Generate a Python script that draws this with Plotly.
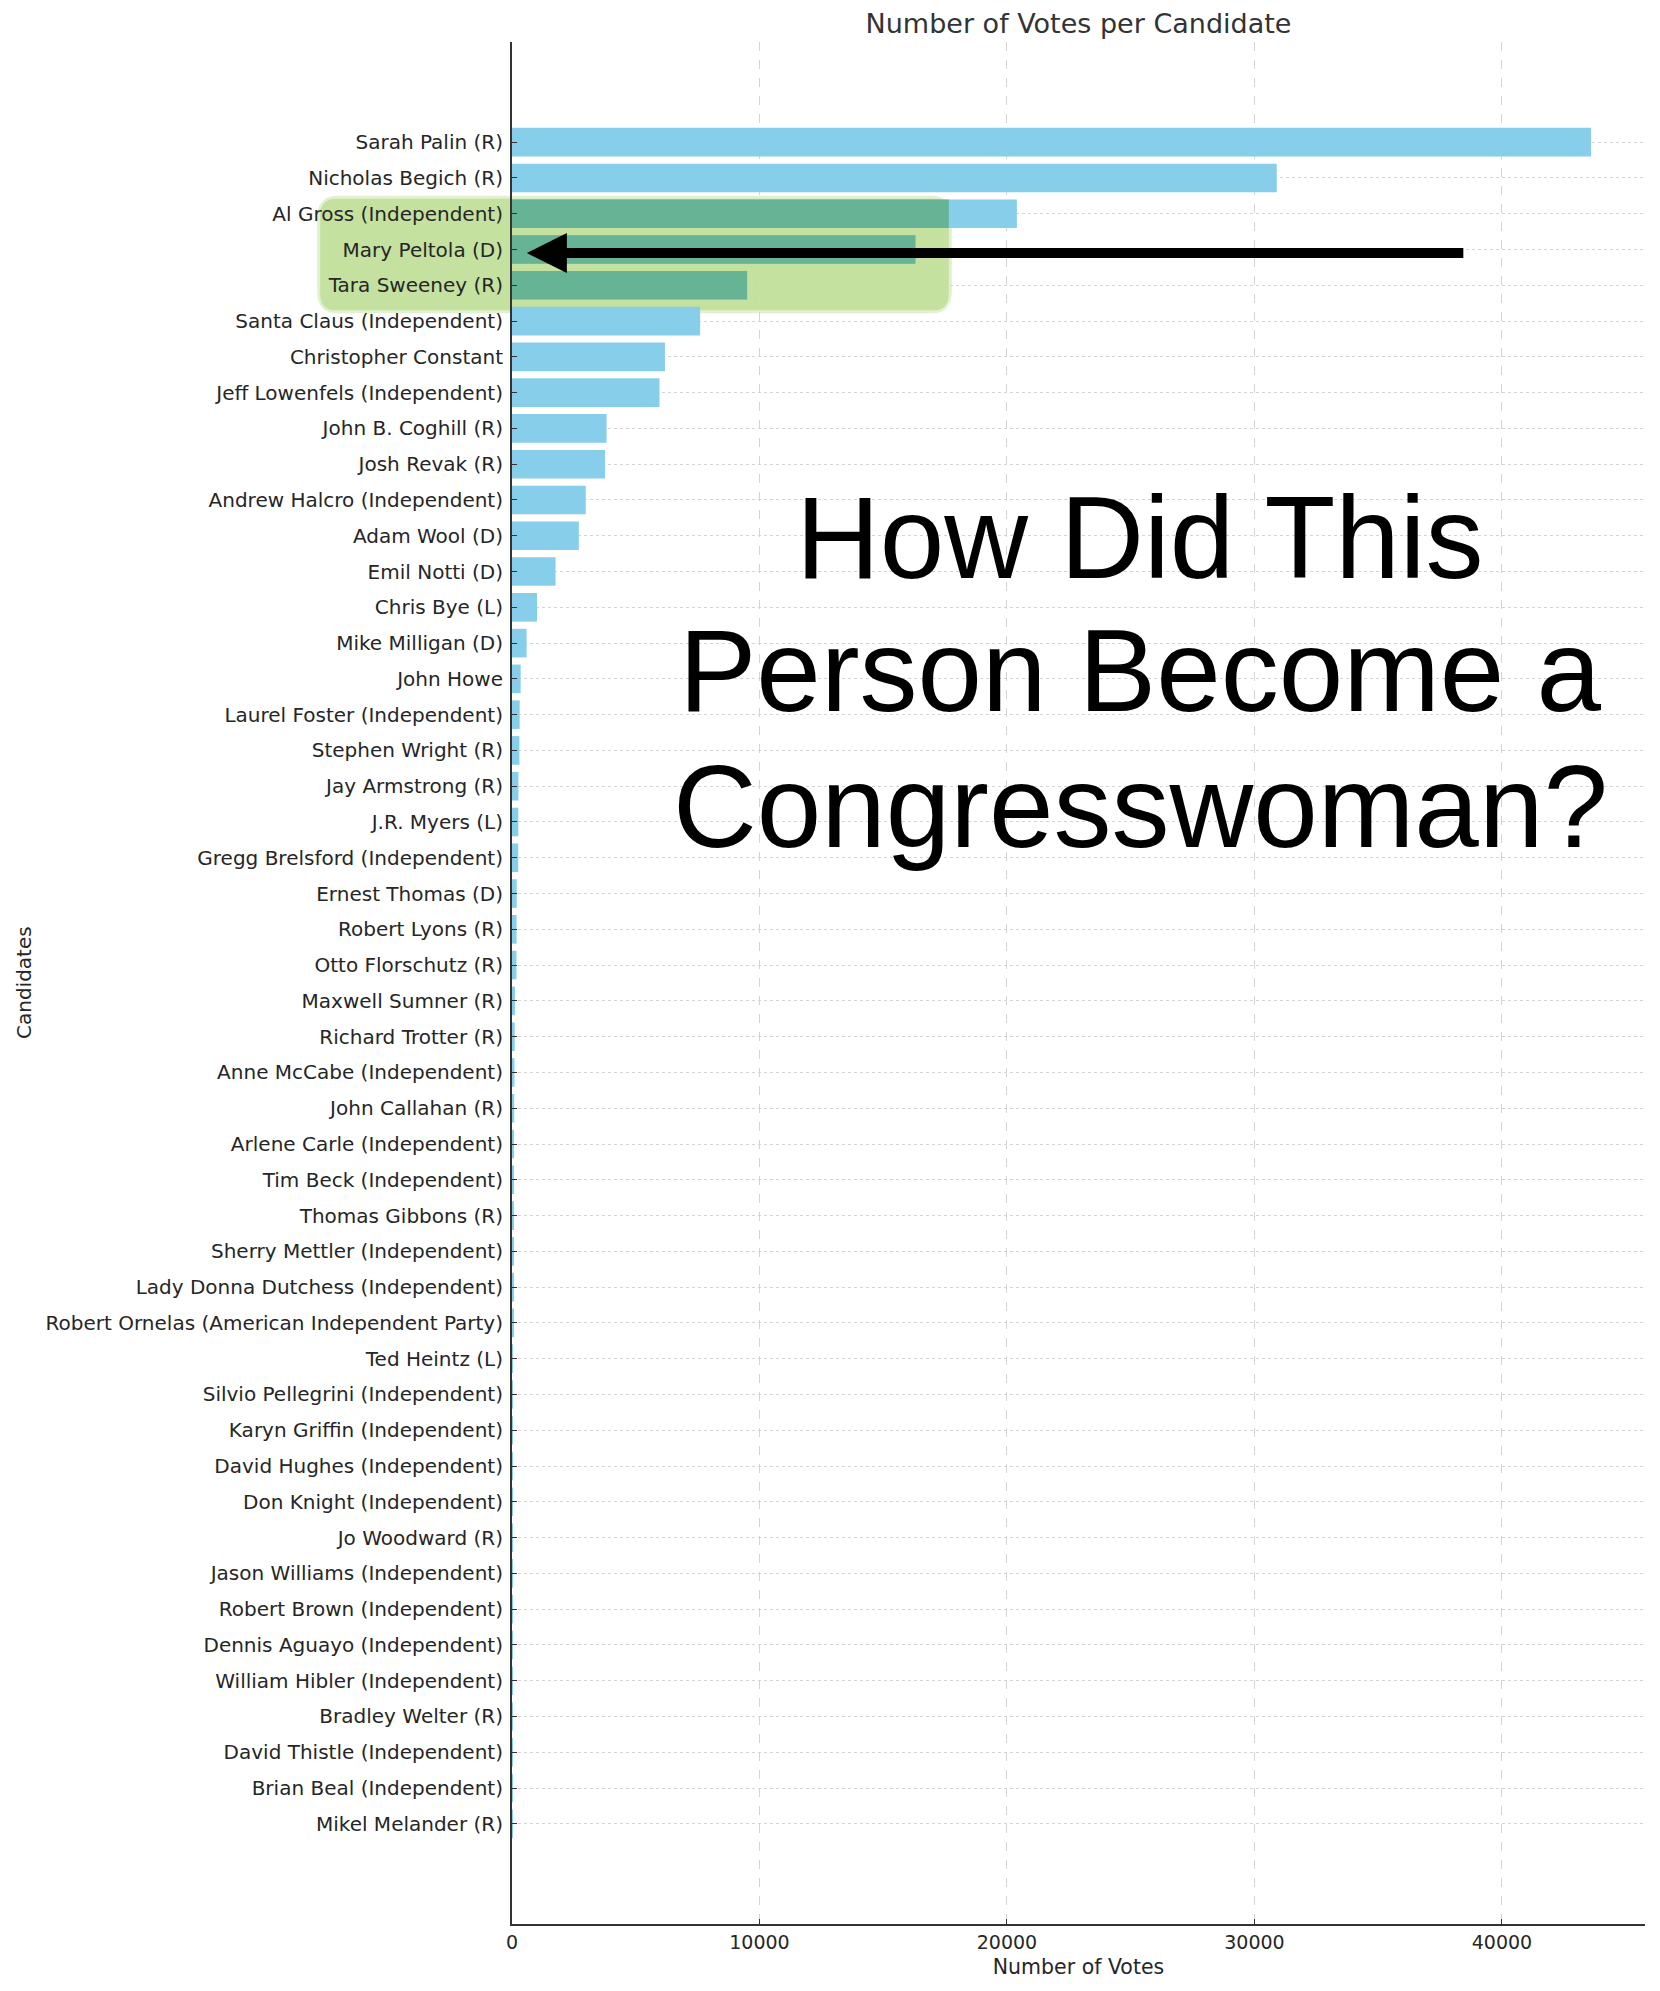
import plotly.graph_objects as go

# data
candidates = [
    "Sarah Palin (R)", "Nicholas Begich (R)", "Al Gross (Independent)", "Mary Peltola (D)",
    "Tara Sweeney (R)", "Santa Claus (Independent)", "Christopher Constant",
    "Jeff Lowenfels (Independent)", "John B. Coghill (R)", "Josh Revak (R)",
    "Andrew Halcro (Independent)", "Adam Wool (D)", "Emil Notti (D)", "Chris Bye (L)",
    "Mike Milligan (D)", "John Howe", "Laurel Foster (Independent)", "Stephen Wright (R)",
    "Jay Armstrong (R)", "J.R. Myers (L)", "Gregg Brelsford (Independent)", "Ernest Thomas (D)",
    "Robert Lyons (R)", "Otto Florschutz (R)", "Maxwell Sumner (R)", "Richard Trotter (R)",
    "Anne McCabe (Independent)", "John Callahan (R)", "Arlene Carle (Independent)",
    "Tim Beck (Independent)", "Thomas Gibbons (R)", "Sherry Mettler (Independent)",
    "Lady Donna Dutchess (Independent)", "Robert Ornelas (American Independent Party)",
    "Ted Heintz (L)", "Silvio Pellegrini (Independent)", "Karyn Griffin (Independent)",
    "David Hughes (Independent)", "Don Knight (Independent)", "Jo Woodward (R)",
    "Jason Williams (Independent)", "Robert Brown (Independent)", "Dennis Aguayo (Independent)",
    "William Hibler (Independent)", "Bradley Welter (R)", "David Thistle (Independent)",
    "Brian Beal (Independent)", "Mikel Melander (R)",
]
votes = [
    43600, 30900, 20400, 16300, 9500, 7600, 6180, 5960, 3820, 3760,
    2980, 2700, 1760, 1010, 590, 350, 310, 300, 260, 255,
    250, 190, 185, 180, 120, 110, 100, 90, 80, 78,
    70, 60, 50, 45, 40, 35, 30, 28, 26, 24,
    22, 20, 18, 16, 14, 12, 10, 8,
]
x_ticks = [0, 10000, 20000, 30000, 40000]
highlighted = ["Al Gross (Independent)", "Mary Peltola (D)", "Tara Sweeney (R)"]
headline = ["How Did This", "Person Become a", "Congresswoman?"]

X_MAX = 45780
Y_TOP, Y_BOTTOM = -2.8, 49.8
PLOT_W, PLOT_H = 1133, 1882

# highlight box in votes / row units
HL_X0, HL_X1 = -7750, 17650
HL_R0, HL_R1 = 1.58, 4.70


def px(v):
    return v / X_MAX


def py(r):
    return (Y_BOTTOM - r) / (Y_BOTTOM - Y_TOP)


def rounded(x0, y0, x1, y1, rx, ry):
    return (f"M{x0+rx},{y0} L{x1-rx},{y0} Q{x1},{y0} {x1},{y0+ry} "
            f"L{x1},{y1-ry} Q{x1},{y1} {x1-rx},{y1} L{x0+rx},{y1} "
            f"Q{x0},{y1} {x0},{y1-ry} L{x0},{y0+ry} Q{x0},{y0} {x0+rx},{y0} Z")


hl_votes = [min(votes[candidates.index(c)], HL_X1) for c in highlighted]

fig = go.Figure()
fig.add_trace(go.Bar(
    y=candidates, x=votes, orientation="h", width=0.8,
    marker=dict(color="#87CEEB", line=dict(width=0)), showlegend=False,
))
fig.add_trace(go.Bar(
    y=highlighted, x=hl_votes, orientation="h", width=0.8,
    marker=dict(color="#66B396", line=dict(width=0)), showlegend=False,
))

x0, x1 = px(HL_X0), px(HL_X1)
y0, y1 = py(HL_R1), py(HL_R0)
dx, dy = 3 / PLOT_W, 3 / PLOT_H
shapes = [
    dict(type="path", xref="paper", yref="paper", layer="below", line=dict(width=0),
         fillcolor="rgba(196,225,160,0.5)",
         path=rounded(x0 - dx, y0 - dy, x1 + dx, y1 + dy, 0.018, 0.012)),
    dict(type="path", xref="paper", yref="paper", layer="below", line=dict(width=0),
         fillcolor="rgb(196,225,160)",
         path=rounded(x0, y0, x1, y1, 0.014, 0.009)),
]

annotations = [
    dict(x=600, y=3.1, xref="x", yref="y", ax=38500, ay=3.1, axref="x", ayref="y",
         text="", showarrow=True, arrowhead=2, arrowsize=0.8, arrowwidth=10,
         arrowcolor="black"),
    dict(x=(24 - 512) / PLOT_W, y=0.5, xref="paper", yref="paper", text="Candidates",
         textangle=-90, showarrow=False, font=dict(size=20, color="#262626"),
         xanchor="center", yanchor="middle"),
]
for line, yy in zip(headline, [538, 671, 807]):
    annotations.append(dict(
        x=25380, y=(1924 - yy) / PLOT_H, xref="x", yref="paper", text=line,
        showarrow=False, xanchor="center", yanchor="middle",
        font=dict(family="Liberation Sans", size=116, color="black"),
    ))

# page body adds an 8px offset, so the figure is 8px smaller than the window
fig.update_layout(
    width=1652, height=1983,
    margin=dict(l=504, r=15, t=34, b=67),
    paper_bgcolor="white", plot_bgcolor="white",
    font=dict(family="DejaVu Sans", color="#262626"),
    barmode="overlay", bargap=0.2,
    title=dict(text="Number of Votes per Candidate", x=0.5, xref="paper",
               y=1 - 16 / 1983, yref="container", yanchor="middle",
               font=dict(size=27, color="#333333")),
    shapes=shapes, annotations=annotations,
)
fig.update_xaxes(
    range=[0, X_MAX], tickvals=x_ticks, tickformat="d",
    showgrid=True, gridcolor="#d4d4d4", griddash="dash", gridwidth=1, zeroline=False,
    showline=True, linecolor="#333333", linewidth=2,
    ticks="inside", ticklen=5, tickcolor="#333333", tickfont=dict(size=19),
    title=dict(text="Number of Votes", font=dict(size=20.5), standoff=8),
)
fig.update_yaxes(
    type="category", categoryorder="array", categoryarray=candidates,
    range=[Y_BOTTOM, Y_TOP],
    showgrid=True, gridcolor="#d4d4d4", griddash="dot", gridwidth=1,
    showline=True, linecolor="#333333", linewidth=2,
    ticks="inside", ticklen=5, tickcolor="#333333", tickfont=dict(size=20),
    ticklabelstandoff=3,
)

fig.write_html("out.html")
